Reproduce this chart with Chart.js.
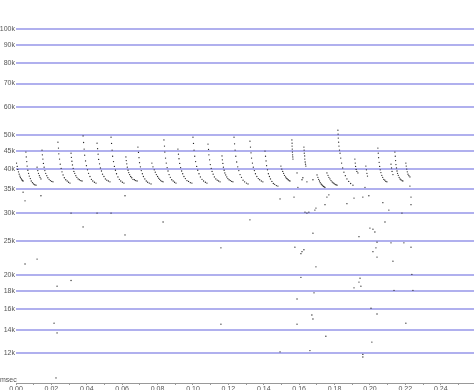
<!DOCTYPE html>
<html>
<head>
<meta charset="utf-8">
<script src="https://cdn.jsdelivr.net/npm/chart.js@4"></script>
<style>
  html, body { margin: 0; padding: 0; background: #fff; overflow: hidden; }
  #wrap { width: 474px; height: 390px; }
</style>
</head>
<body>
<div id="wrap"><canvas id="myChart" width="474" height="390"></canvas></div>
<script>
// time in seconds, frequency in kHz
const yTickValues = [12, 14, 16, 18, 20, 25, 30, 35, 40, 45, 50, 60, 70, 80, 90, 100];
const xTickValues = [0, 0.01, 0.02, 0.03, 0.04, 0.05, 0.06, 0.07, 0.08, 0.09, 0.1, 0.11, 0.12,
  0.13, 0.14, 0.15, 0.16, 0.17, 0.18, 0.19, 0.2, 0.21, 0.22, 0.23, 0.24, 0.25];

// the call sweeps
const sweepPoints = [
  [.0003,41.6],[.0007,40.7],[.0010,39.9],[.0014,39.3],[.0018,38.7],[.0022,38.2],[.0025,37.9],[.0029,37.6],[.0033,37.3],[.0036,37.1],[.0040,37.0],
  [.0056,44.7],[.0058,43.3],[.0061,42.0],[.0063,40.8],[.0067,39.7],[.0071,38.9],[.0075,38.2],[.0081,37.6],[.0086,37.0],[.0093,36.6],[.0099,36.3],[.0106,36.1],[.0113,36.0],
  [.0119,40.5],[.0123,39.6],[.0127,38.9],[.0132,38.3],[.0136,37.9],[.0141,37.5],
  [.0147,45.3],[.0149,43.9],[.0152,42.7],[.0155,41.5],[.0159,40.5],[.0163,39.6],[.0168,38.9],[.0174,38.3],[.0180,37.8],[.0187,37.4],[.0194,37.1],[.0202,36.9],[.0209,36.8],
  [.0237,47.7],[.0240,45.9],[.0242,44.2],[.0246,42.7],[.0250,41.3],[.0255,40.2],[.0260,39.3],[.0266,38.5],[.0273,37.8],[.0281,37.3],[.0289,37.0],[.0297,36.7],[.0305,36.5],
  [.0311,44.4],[.0313,43.2],[.0316,42.1],[.0319,41.1],[.0323,40.2],[.0327,39.4],[.0332,38.9],[.0338,38.3],[.0344,37.9],[.0351,37.5],[.0358,37.3],[.0366,37.1],[.0373,37.0],
  [.0379,49.7],[.0382,47.6],[.0385,45.6],[.0388,43.8],[.0393,42.2],[.0398,40.9],[.0404,39.8],[.0410,38.9],[.0418,38.1],[.0426,37.4],[.0434,37.0],[.0443,36.7],[.0452,36.5],
  [.0458,47.4],[.0461,45.7],[.0464,44.1],[.0467,42.6],[.0472,41.4],[.0477,40.3],[.0483,39.5],[.0489,38.7],[.0497,38.1],[.0505,37.5],[.0513,37.2],[.0522,37.0],[.0531,36.8],
  [.0537,49.3],[.0540,47.3],[.0543,45.3],[.0546,43.5],[.0551,42.0],[.0556,40.7],[.0562,39.7],[.0568,38.8],[.0576,38.0],[.0584,37.4],[.0592,37.0],[.0601,36.7],[.0610,36.5],
  [.0621,43.3],[.0623,42.3],[.0626,41.4],[.0629,40.5],[.0633,39.7],[.0637,39.1],[.0642,38.6],[.0648,38.1],[.0654,37.8],[.0661,37.4],[.0669,37.3],[.0676,37.1],[.0684,37.0],
  [.0689,46.2],[.0692,44.6],[.0695,43.1],[.0698,41.7],[.0703,40.6],[.0708,39.6],[.0714,38.8],[.0720,38.1],[.0728,37.5],[.0736,37.0],[.0744,36.7],[.0753,36.5],[.0763,36.3],
  [.0768,41.6],[.0774,40.6],[.0781,39.8],[.0787,39.2],[.0793,38.6],[.0800,38.1],[.0806,37.7],[.0812,37.4],[.0818,37.1],[.0825,36.9],[.0831,36.8],
  [.0836,48.4],[.0839,46.5],[.0841,44.7],[.0845,43.0],[.0849,41.6],[.0854,40.4],[.0859,39.5],[.0865,38.6],[.0872,37.9],[.0880,37.3],[.0888,37.0],[.0896,36.7],[.0904,36.5],
  [.0915,45.6],[.0918,44.1],[.0921,42.8],[.0925,41.5],[.0930,40.4],[.0936,39.5],[.0942,38.8],[.0949,38.1],[.0957,37.6],[.0966,37.1],[.0975,36.9],[.0985,36.6],[.0994,36.5],
  [.1000,49.3],[.1003,47.3],[.1006,45.3],[.1010,43.5],[.1015,42.0],[.1021,40.7],[.1027,39.7],[.1034,38.8],[.1042,38.0],[.1051,37.4],[.1060,37.0],[.1070,36.7],[.1079,36.5],
  [.1085,47.1],[.1088,45.5],[.1090,43.9],[.1094,42.5],[.1098,41.2],[.1103,40.2],[.1108,39.4],[.1114,38.7],[.1121,38.0],[.1129,37.5],[.1137,37.2],[.1145,37.0],[.1153,36.8],
  [.1164,43.6],[.1166,42.5],[.1169,41.5],[.1172,40.5],[.1176,39.7],[.1180,39.0],[.1185,38.5],[.1191,38.0],[.1197,37.6],[.1204,37.3],[.1211,37.1],[.1219,36.9],[.1226,36.8],
  [.1232,49.3],[.1235,47.2],[.1238,45.3],[.1242,43.5],[.1247,41.9],[.1253,40.6],[.1259,39.6],[.1266,38.6],[.1274,37.9],[.1283,37.2],[.1292,36.8],[.1302,36.5],[.1311,36.3],
  [.1322,48.0],[.1325,46.2],[.1328,44.5],[.1331,43.0],[.1336,41.6],[.1341,40.5],[.1347,39.6],[.1353,38.8],[.1361,38.1],[.1369,37.6],[.1377,37.3],[.1386,37.0],[.1395,36.8],
  [.1407,45.0],[.1410,43.5],[.1413,42.2],[.1416,40.9],[.1421,39.8],[.1426,38.8],[.1432,38.1],[.1438,37.5],[.1446,36.9],[.1454,36.4],[.1462,36.2],[.1471,35.9],[.1480,35.8],
  [.1497,40.8],[.1502,40.0],[.1507,39.4],[.1512,38.9],[.1517,38.4],[.1523,38.0],[.1528,37.7],[.1533,37.5],[.1538,37.3],[.1543,37.1],[.1548,37.0],
  [.1559,48.4],[.1560,47.4],[.1560,46.5],[.1561,45.6],[.1562,44.7],[.1563,43.9],[.1564,43.3],[.1565,42.7],
  [.1627,46.2],[.1628,45.3],[.1629,44.4],[.1631,43.6],[.1632,42.7],[.1634,41.9],[.1636,41.3],[.1638,40.8],
  [.1701,38.5],[.1706,37.9],[.1710,37.4],[.1715,37.0],[.1719,36.6],[.1724,36.3],[.1728,36.1],[.1733,35.9],[.1737,35.7],[.1742,35.6],[.1746,35.5],
  [.1757,39.0],[.1763,38.4],[.1768,37.9],[.1774,37.5],[.1780,37.1],[.1786,36.8],[.1791,36.6],[.1797,36.4],[.1803,36.2],[.1808,36.1],[.1814,36.0],
  [.1819,51.6],[.1820,50.3],[.1821,49.0],[.1823,47.7],[.1825,46.5],[.1828,45.3],[.1831,44.4],[.1835,43.0],[.1840,41.6],[.1846,40.3],[.1853,39.2],[.1861,38.3],[.1870,37.5],[.1880,36.9],[.1891,36.4],[.1904,36.0],
  [.1915,42.7],[.1917,41.6],[.1919,40.7],[.1922,39.9],[.1926,39.4],[.1932,39.0],
  [.1977,40.8],[.1980,39.8],[.1983,38.9],[.1986,38.2],
  [.2045,45.9],[.2047,44.4],[.2049,43.1],[.2052,41.8],[.2055,40.7],[.2058,39.8],[.2062,39.1],[.2067,38.4],[.2072,37.9],[.2078,37.4],[.2084,37.2],[.2090,36.9],[.2096,36.8],
  [.2119,41.3],[.2122,40.3],[.2125,39.4],[.2130,38.6],
  [.2141,44.7],[.2143,43.5],[.2145,42.3],[.2147,41.2],[.2150,40.3],[.2153,39.5],[.2156,38.9],[.2160,38.4],[.2165,37.9],[.2170,37.5],[.2175,37.3],[.2181,37.1],[.2186,37.0],
  [.2203,41.6],[.2205,40.8],[.2208,40.0],[.2211,39.3],[.2215,38.7],[.2220,38.3],[.2226,38.0]
];

// loose single detections
const strayPoints = [
  [.0040,34.4],[.0051,32.5],[.0141,33.6],[.0311,30.0],[.0379,27.4],[.0458,30.0],[.0537,30.0],
  [.0616,33.6],[.0616,26.0],[.0051,21.5],[.0119,22.2],[.0232,18.6],[.0311,19.3],[.0215,14.6],
  [.0232,13.7],[.0226,10.2],[.0831,28.3],[.1322,28.7],[.1158,23.9],[.1158,14.5],[.1492,32.9],
  [.1571,33.3],[.1593,35.5],[.1621,37.8],[.1588,39.0],[.1633,30.2],[.1655,30.2],[.1689,30.6],
  [.1678,26.3],[.1576,24.0],[.1616,23.3],[.1610,23.0],[.1695,21.1],[.1610,19.7],[.1684,17.8],
  [.1588,17.1],[.1672,15.4],[.1678,15.0],[.1588,14.5],[.1492,12.1],[.1661,12.2],[.1695,31.0],
  [.1644,30.0],[.1757,33.3],[.1768,33.8],[.1746,31.7],[.1870,31.9],[.1910,33.1],[.1960,33.3],
  [.1994,33.6],[.2073,32.1],[.2107,30.6],[.2085,28.3],[.2017,27.0],[.2000,27.2],[.2028,26.5],
  [.1938,25.7],[.2181,30.0],[.2232,33.3],[.2232,31.7],[.1627,23.6],[.2040,24.8],[.2034,23.9],
  [.2119,24.7],[.2192,24.7],[.2232,24.0],[.2017,23.3],[.2040,22.5],[.2130,21.9],[.2237,20.1],
  [.1944,19.6],[.1938,19.1],[.1949,18.6],[.1910,18.4],[.2136,18.1],[.2243,18.1],[.2006,16.1],
  [.2040,15.5],[.2203,14.6],[.1751,13.4],[.2011,12.9],[.1960,11.9],[.1960,11.7],[.1972,35.5],
  [.2226,35.8],[.1616,37.3],[.1644,36.8],[.1678,37.3]
];

const toXY = (p) => ({ x: p[0], y: p[1] });

const msecLabel = {
  id: "msecLabel",
  afterDraw(chart) {
    const c = chart.ctx;
    c.save();
    c.font = "7px 'Liberation Sans'";
    c.fillStyle = "#555";
    c.textBaseline = "bottom";
    c.fillText("msec", 0, chart.chartArea.bottom + 1);
    c.restore();
  }
};

Chart.defaults.font.family = "'Liberation Sans'";
Chart.defaults.font.size = 7;
Chart.defaults.color = "#555";

new Chart(document.getElementById("myChart"), {
  type: "scatter",
  data: {
    datasets: [
      { data: sweepPoints.map(toXY), backgroundColor: "#222", borderWidth: 0, pointRadius: 0.65 },
      { data: strayPoints.map(toXY), backgroundColor: "#222", borderWidth: 0, pointRadius: 0.65 }
    ]
  },
  options: {
    responsive: false,
    devicePixelRatio: 1,
    animation: false,
    layout: { padding: 0, autoPadding: false },
    plugins: { legend: { display: false }, tooltip: { enabled: false } },
    scales: {
      x: {
        type: "linear",
        min: 0,
        max: 0.2588,
        afterBuildTicks: (scale) => { scale.ticks = xTickValues.map((v) => ({ value: v })); },
        afterFit: (scale) => {
          scale.height = 7;
          scale.paddingLeft = 0;
          scale.paddingRight = 0;
        },
        grid: { drawOnChartArea: false, drawTicks: true, tickLength: 2, color: "#999" },
        border: { color: "#999", width: 1 },
        ticks: {
          autoSkip: false,
          maxRotation: 0,
          padding: 0,
          callback: (v) => (Math.round(v * 100) % 2 === 0 ? v.toFixed(2) : "")
        }
      },
      y: {
        type: "logarithmic",
        min: 9.87,
        max: 120.9,
        afterBuildTicks: (scale) => { scale.ticks = yTickValues.map((v) => ({ value: v })); },
        afterFit: (scale) => {
          scale.width = 16;
          scale.paddingTop = 0;
          scale.paddingBottom = 0;
        },
        grid: { drawTicks: false, color: "#b0b0ee", lineWidth: 2 },
        border: { display: false },
        ticks: { padding: 1, callback: (v) => v + "k" }
      }
    }
  },
  plugins: [msecLabel]
});
</script>
</body>
</html>
